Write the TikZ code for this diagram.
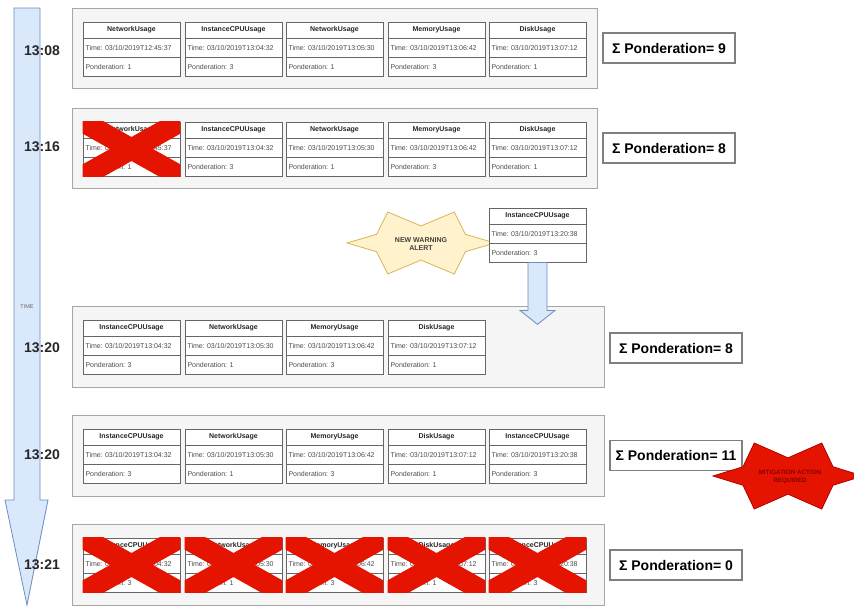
\documentclass[tikz,border=0pt]{standalone}
\usepackage{fontspec}
\setmainfont{Liberation Sans}
\frenchspacing
\usetikzlibrary{calc}
\definecolor{contfill}{HTML}{F5F5F5}
\definecolor{contdraw}{HTML}{A6A6A6}
\definecolor{carddraw}{HTML}{666666}
\definecolor{cardtext}{HTML}{4D4D4D}
\definecolor{timefill}{HTML}{DAE8FC}
\definecolor{timedraw}{HTML}{6C8EBF}
\definecolor{warnfill}{HTML}{FFF2CC}
\definecolor{warndraw}{HTML}{D6B656}
\definecolor{xred}{HTML}{E51400}
\definecolor{mitdraw}{HTML}{B20000}
\definecolor{mittext}{HTML}{8A0000}
\definecolor{sumdraw}{HTML}{808080}
\tikzset{
  container/.style={draw=contdraw, fill=contfill, line width=0.8pt},
  cardhead/.style={draw=carddraw, fill=white, line width=0.8pt, minimum width=97pt,
    minimum height=16pt, inner sep=0pt, font=\fontsize{7}{8}\selectfont\bfseries, text=black!85},
  cardrow/.style={draw=carddraw, fill=white, line width=0.8pt, minimum height=19pt,
    text width=92pt, inner xsep=2.5pt, inner ysep=0pt, align=left,
    font=\fontsize{7}{8}\selectfont, text=cardtext},
  xbar/.style={draw=xred, line width=21pt},
  sumbox/.style={draw=sumdraw, fill=white, line width=1.8pt, minimum width=132pt,
    minimum height=30pt, inner sep=0pt, font=\fontsize{14}{16}\selectfont\bfseries},
  timelabel/.style={font=\fontsize{14}{16}\selectfont\bfseries, text=black!85},
  blockarrow/.style={draw=timedraw, fill=timefill, line width=0.8pt, line join=miter},
  warnstar/.style={draw=warndraw, fill=warnfill, line width=0.8pt},
  mitstar/.style={draw=mitdraw, fill=xred, line width=0.8pt},
}
\newcommand\mkcard[6]{%
  \node[cardhead] (#1h) at ({#2+48.5},{#3+8}) {#4};
  \node[cardrow] (#1t) at ({#2+48.5},{#3+25.5}) {Time: #5};
  \node[cardrow] (#1p) at ({#2+48.5},{#3+44.5}) {Ponderation: #6};
}
\newcommand\mycross[1]{%
  \begin{scope}
    \clip (#1h.north west) rectangle (#1p.south east);
    \draw[xbar] (#1h.north west) -- (#1p.south east);
    \draw[xbar] (#1p.south west) -- (#1h.north east);
  \end{scope}
}
\begin{document}
\begin{tikzpicture}[x=1pt,y=-1pt]
\useasboundingbox (0,0) rectangle (854,608);
% time arrow
\draw[blockarrow] (14,8) -- (40,8) -- (40,500) -- (48,500) -- (27,605) -- (5,500) -- (14,500) -- cycle;
\node[font=\fontsize{5.5}{6}\selectfont, text=black!60] (timelbl) at (27,307) {TIME};

% row 1
\draw[container] (72,8) rectangle (597,88);
\mkcard{ra}{83}{22}{NetworkUsage}{03/10/2019T12:45:37}{1}
\mkcard{rb}{185}{22}{InstanceCPUUsage}{03/10/2019T13:04:32}{3}
\mkcard{rc}{286}{22}{NetworkUsage}{03/10/2019T13:05:30}{1}
\mkcard{rd}{388}{22}{MemoryUsage}{03/10/2019T13:06:42}{3}
\mkcard{re}{489}{22}{DiskUsage}{03/10/2019T13:07:12}{1}
\node[sumbox] (s1) at (669,48) {Σ Ponderation= 9};
\node[timelabel] (t1) at (42,51) {13:08};

% row 2
\draw[container] (72,108) rectangle (597,188);
\mkcard{sa}{83}{122}{NetworkUsage}{03/10/2019T12:45:37}{1}
\mkcard{sb}{185}{122}{InstanceCPUUsage}{03/10/2019T13:04:32}{3}
\mkcard{sc}{286}{122}{NetworkUsage}{03/10/2019T13:05:30}{1}
\mkcard{sd}{388}{122}{MemoryUsage}{03/10/2019T13:06:42}{3}
\mkcard{se}{489}{122}{DiskUsage}{03/10/2019T13:07:12}{1}
\mycross{sa}
\node[sumbox] (s2) at (669,148) {Σ Ponderation= 8};
\node[timelabel] (t2) at (42,147) {13:16};

% warning star and new card
\begin{scope}[shift={(421,243)}, xscale=74, yscale=31]
\draw[warnstar] (-1,0) -- (-0.6,-0.28) -- (-0.45,-1) -- (0,-0.55) -- (0.45,-1) -- (0.6,-0.28)
  -- (1,0) -- (0.6,0.28) -- (0.45,1) -- (0,0.55) -- (-0.45,1) -- (-0.6,0.28) -- cycle;
\end{scope}
\mkcard{f}{489}{208}{InstanceCPUUsage}{03/10/2019T13:20:38}{3}
\node[font=\fontsize{7}{8}\selectfont\bfseries, text=black!75, align=center] (warn) at (421,244) {NEW WARNING\\ALERT};

% row 3
\draw[container] (72,306) rectangle (604,387);
\mkcard{ua}{83}{320}{InstanceCPUUsage}{03/10/2019T13:04:32}{3}
\mkcard{ub}{185}{320}{NetworkUsage}{03/10/2019T13:05:30}{1}
\mkcard{uc}{286}{320}{MemoryUsage}{03/10/2019T13:06:42}{3}
\mkcard{ud}{388}{320}{DiskUsage}{03/10/2019T13:07:12}{1}
\draw[blockarrow] ([xshift=-9.5pt]fp.south) -- ++(0,48) -- ++(-8,0) -- ++(17.5,14) -- ++(17.5,-14) -- ++(-8,0) -- ++(0,-48) -- cycle;
\node[sumbox] (s3) at (676,348) {Σ Ponderation= 8};
\node[timelabel] (t3) at (42,348) {13:20};

% row 4
\draw[container] (72,415) rectangle (604,496);
\mkcard{va}{83}{429}{InstanceCPUUsage}{03/10/2019T13:04:32}{3}
\mkcard{vb}{185}{429}{NetworkUsage}{03/10/2019T13:05:30}{1}
\mkcard{vc}{286}{429}{MemoryUsage}{03/10/2019T13:06:42}{3}
\mkcard{vd}{388}{429}{DiskUsage}{03/10/2019T13:07:12}{1}
\mkcard{ve}{489}{429}{InstanceCPUUsage}{03/10/2019T13:20:38}{3}
\node[sumbox] (s4) at (676,455.5) {Σ Ponderation= 11};
\node[timelabel] (t4) at (42,455) {13:20};
\begin{scope}[shift={(788,476)}, xscale=75, yscale=33]
\draw[mitstar] (-1,0) -- (-0.6,-0.28) -- (-0.45,-1) -- (0,-0.55) -- (0.45,-1) -- (0.6,-0.28)
  -- (1,0) -- (0.6,0.28) -- (0.45,1) -- (0,0.55) -- (-0.45,1) -- (-0.6,0.28) -- cycle;
\end{scope}
\node[font=\fontsize{6.3}{7.5}\selectfont\bfseries, text=mittext, align=center] (mit) at (790,477) {MITIGATION ACTION\\REQUIRED};

% row 5
\draw[container] (72,524) rectangle (604,605);
\mkcard{wa}{83}{538}{InstanceCPUUsage}{03/10/2019T13:04:32}{3}
\mkcard{wb}{185}{538}{NetworkUsage}{03/10/2019T13:05:30}{1}
\mkcard{wc}{286}{538}{MemoryUsage}{03/10/2019T13:06:42}{3}
\mkcard{wd}{388}{538}{DiskUsage}{03/10/2019T13:07:12}{1}
\mkcard{we}{489}{538}{InstanceCPUUsage}{03/10/2019T13:20:38}{3}
\mycross{wa}\mycross{wb}\mycross{wc}\mycross{wd}\mycross{we}
\node[sumbox] (s5) at (676,565) {Σ Ponderation= 0};
\node[timelabel] (t5) at (42,565) {13:21};
\end{tikzpicture}
\end{document}
